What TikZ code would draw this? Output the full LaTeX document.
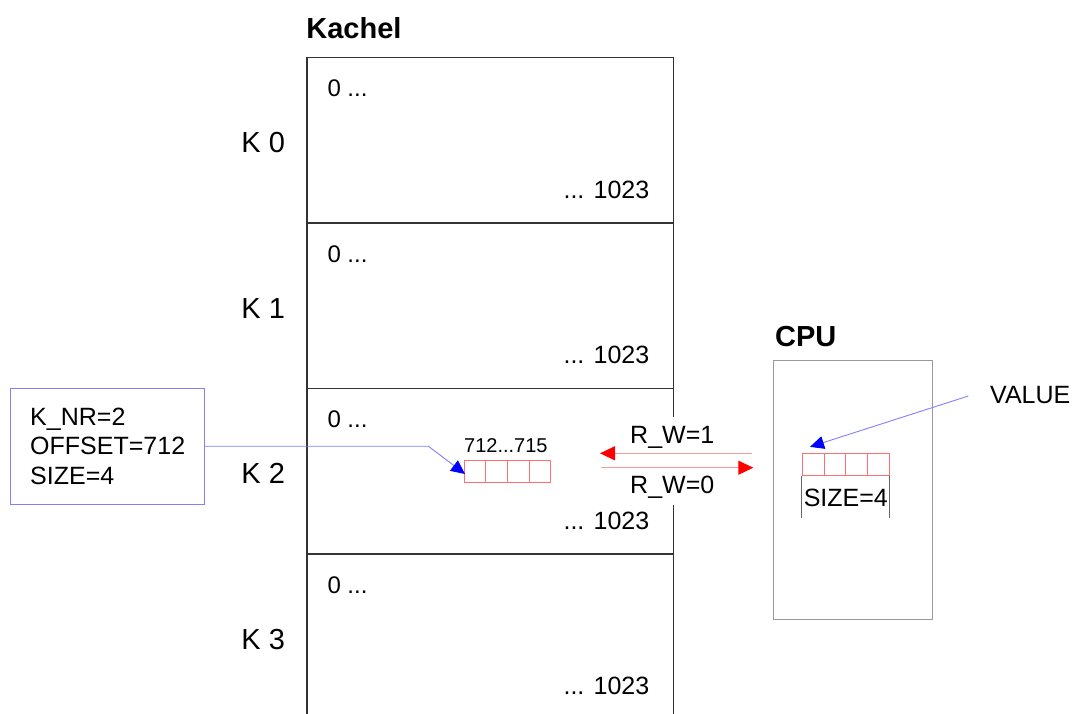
\documentclass[tikz,border=0pt]{standalone}
\usepackage{fontspec}
\setmainfont{Liberation Sans}
\usetikzlibrary{arrows.meta,calc}
\definecolor{boxline}{HTML}{333333}
\definecolor{lblue}{HTML}{8080FF}
\definecolor{lred}{HTML}{FF7070}
\definecolor{rwline}{HTML}{FF9999}
\definecolor{cpugray}{HTML}{999999}
\begin{document}
\begin{tikzpicture}[x=1pt,y=-1pt,
  font=\fontsize{25}{29.5}\selectfont,
  row/.style={draw=boxline, line width=1.6pt, minimum width=366.5pt, minimum height=165.5pt, inner sep=0pt, anchor=north west},
  cell/.style={draw=lred, line width=0.9pt, minimum width=21.7pt, minimum height=21.7pt, inner sep=0pt},
  txt/.style={inner sep=0pt},
  title/.style={inner sep=0pt, anchor=base west, font=\fontsize{29}{34}\selectfont\bfseries},
  klabel/.style={inner sep=0pt, anchor=base west, font=\fontsize{29}{34}\selectfont},
  startlbl/.style={inner sep=0pt, anchor=base west, font=\fontsize{24}{28}\selectfont},
  endlbl/.style={inner sep=0pt, anchor=base east, font=\fontsize{25}{30}\selectfont},
  rwarrow/.style={draw=rwline, line width=1.3pt, -{Triangle[length=15pt,width=14pt,color=red]}},
  bluelink/.style={draw=lblue, line width=0.9pt, -{Triangle[length=14pt,width=13pt,color=blue]}},
  bracket/.style={draw=black!60, line width=0.9pt}
]
\useasboundingbox (0,0) rectangle (1072,713);
\clip (0,0) rectangle (1072,713);

% Kachel column
\node[title] (kachel) at (306.2,38.3) {Kachel};
\foreach \i in {0,1,2,3}{
  \node[row] (k\i) at (306.2,{56.7+165.5*\i}) {};
  \node[klabel] (kl\i) at (241.2,{152.7+165.5*\i}) {K \i};
  \node[startlbl] (ks\i) at (327.3,{96.7+165.5*\i}) {0 ...};
  \node[endlbl] (ke\i) at (649.5,{198.3+165.5*\i}) {... 1023};
}

% gap in the right edge for the R_W arrows
\node[fill=white, inner sep=0pt, minimum width=20pt, minimum height=88pt] (rwgap) at (673,461) {};

% register in K 2
\node[txt, anchor=base west, font=\fontsize{20}{24}\selectfont] (addr) at (464,452.7) {712...715};
\node[cell] (r1) at (474.85,471.2) {};
\node[cell] (r2) at (496.55,471.2) {};
\node[cell] (r3) at (518.25,471.2) {};
\node[cell] (r4) at (539.95,471.2) {};

% left parameter box
\node[draw=lblue, line width=1pt, minimum width=194pt, minimum height=115.7pt, align=left, inner sep=0pt] (lbox) at (107.7,446.2) {K\_NR=2\\OFFSET=712\\SIZE=4};
\coordinate (bend) at (428.3,446.2);
\draw[bluelink] (lbox.east) -- (bend) -- ($(r1.west)+(1.5,2.8)$);

% R_W arrows
\coordinate (rw1s) at (752.3,453.3);
\coordinate (rw1e) at (600,453.3);
\coordinate (rw0s) at (601,467.7);
\coordinate (rw0e) at (753.3,467.7);
\draw[rwarrow] (rw1s) -- (rw1e);
\draw[rwarrow] (rw0s) -- (rw0e);
\node[txt, anchor=base west] (rw1) at (630,443.3) {R\_W=1};
\node[txt, anchor=base west] (rw0) at (630,493.3) {R\_W=0};

% CPU
\node[title] (cpulbl) at (775,346) {CPU};
\node[draw=cpugray, line width=1pt, minimum width=159pt, minimum height=259.3pt, inner sep=0pt] (cpu) at (852.8,489.65) {};
\node[cell, minimum width=21.75pt, minimum height=22pt] (c1) at (813.2,464.3) {};
\node[cell, minimum width=21.75pt, minimum height=22pt] (c2) at (834.9,464.3) {};
\node[cell, minimum width=21.75pt, minimum height=22pt] (c3) at (856.7,464.3) {};
\node[cell, minimum width=21.75pt, minimum height=22pt] (c4) at (878.4,464.3) {};
\draw[bracket] (c1.south west) -- ++(0,42.4);
\draw[bracket] (c4.south east) -- ++(0,42.4);
\node[txt, anchor=base] (size) at (845.8,506) {SIZE=4};

% VALUE
\node[txt, anchor=base west, font=\fontsize{25}{30}\selectfont] (value) at (990,403) {VALUE};
\draw[bluelink] ($(value.west)+(-21.7,1.5)$) -- ($(c1.north)+(-3.2,-6)$);
\end{tikzpicture}
\end{document}
